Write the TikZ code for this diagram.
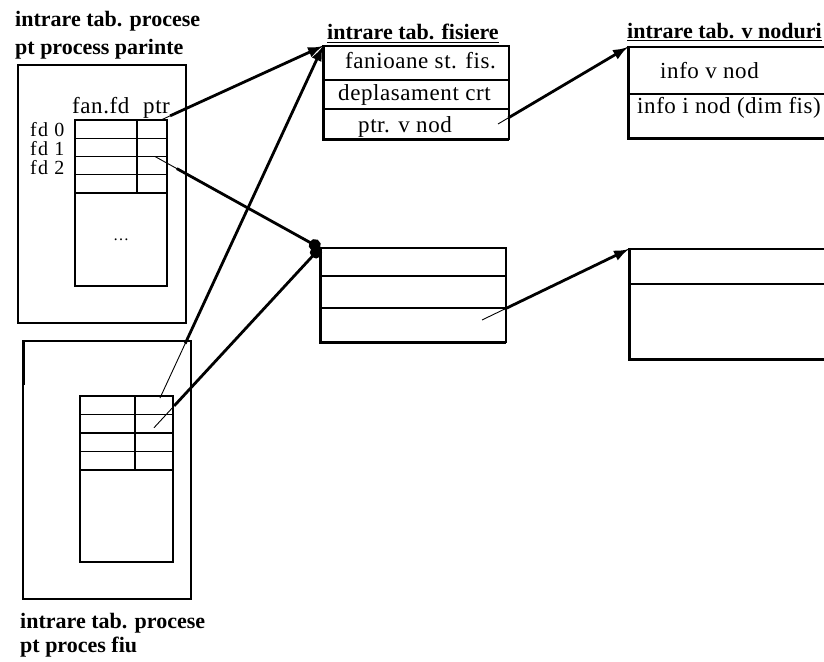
\documentclass[tikz,border=0pt]{standalone}
\usepackage{fontspec}
\setmainfont{Liberation Serif}
\newfontfamily\cellfam{Liberation Serif}[LetterSpace=2.5]
\newfontfamily\fdfam{Liberation Serif}[LetterSpace=6]
\usetikzlibrary{arrows.meta,positioning}
\tikzset{
  >=Latex,
  ttl/.style={anchor=base west,inner sep=0pt,font=\fontsize{22}{26}\selectfont\bfseries},
  txt/.style={anchor=base west,inner sep=0pt,font=\cellfam\fontsize{23}{27}\selectfont},
  fdtxt/.style={txt,font=\fdfam\fontsize{20}{22}\selectfont},
  cell/.style={draw,anchor=north west,line width=1.2pt,inner sep=0pt,outer sep=0pt},
  procbox/.style={cell,line width=1.8pt},
  heavy/.style={line width=3pt},
  ptr/.style={-{Latex[length=15pt,width=11pt]},line width=2.8pt,
    preaction={draw,-,line width=.9pt,shorten <=0pt}},
  ptrdot/.style={ptr,-{Circle[length=12pt]}}
}
\begin{document}
\begin{tikzpicture}[x=1pt,y=-1pt]
  \path[use as bounding box,clip] (0,0) rectangle (824,661);
  % parent process entry
  \node[ttl] (tp1) at (15,27) {intrare tab. procese};
  \node[ttl] (tp2) at (15,55) {pt process parinte};
  \node[procbox,minimum width=168,minimum height=258] (par) at (18,65) {};
  \node[txt] (hfan) at (72,113) {fan.fd};
  \node[txt] (hptr) at (143,113) {ptr};
  \foreach \r/\y in {0/136,1/155,2/174}
    \node[fdtxt] (fd\r) at (30,\y) {fd \r};
  \foreach \r in {0,1,2,3} {
    \node[cell,minimum width=62,minimum height=18.25] (pa\r) at (75,{120+18.25*\r}) {};
    \node[cell,minimum width=30,minimum height=18.25] (pb\r) at (137,{120+18.25*\r}) {};
  }
  \node[cell,minimum width=92,minimum height=93,font=\fontsize{16}{18}\selectfont] (pbody) at (75,193) {\dots};
  % child process entry
  \node[cell,minimum width=168,minimum height=258] (chd) at (23,341) {};
  \draw[heavy] (chd.north west) -- ++(0,44);
  \foreach \r in {0,1,2,3} {
    \node[cell,minimum width=55,minimum height=18.5] (ca\r) at (80,{396+18.5*\r}) {};
    \node[cell,minimum width=38,minimum height=18.5] (cb\r) at (135,{396+18.5*\r}) {};
  }
  \node[cell,minimum width=93,minimum height=92] (cbody) at (80,470) {};
  \node[ttl] (tc1) at (20,628) {intrare tab. procese};
  \node[ttl] (tc2) at (20,652) {pt proces fiu};
  % file table
  \node[ttl] (tf) at (327,40) {\underline{intrare tab. fisiere}};
  \node[cell,minimum width=186,minimum height=34] (f1) at (323,46) {};
  \node[cell,minimum width=186,minimum height=29,below=0pt of f1] (f2) {};
  \node[cell,minimum width=186,minimum height=30,below=0pt of f2] (f3) {};
  \draw[heavy] (f1.north west) -- (f3.south west) -- (f3.south east);
  \node[txt] (l1) at (345,69) {fanioane st. fis.};
  \node[txt] (l2) at (338,100) {deplasament crt};
  \node[txt] (l3) at (358,132) {ptr. v nod};
  \node[cell,minimum width=186,minimum height=28] (g1) at (320,248) {};
  \node[cell,minimum width=186,minimum height=32,below=0pt of g1] (g2) {};
  \node[cell,minimum width=186,minimum height=34,below=0pt of g2] (g3) {};
  \draw[heavy] (g1.north west) -- (g3.south west) -- (g3.south east);
  % v-node table
  \node[ttl] (tv) at (627,38) {\underline{intrare tab. v noduri}};
  \node[cell,minimum width=212,minimum height=47] (vn1) at (628,47) {};
  \node[cell,minimum width=212,minimum height=44,below=0pt of vn1] (vn2) {};
  \draw[heavy] (vn1.north west) -- (vn2.south west) -- (vn2.south east);
  \node[txt] (v1) at (660,78) {info v nod};
  \node[txt] (v2) at (637,113) {info i nod (dim fis)};
  \node[cell,minimum width=212,minimum height=35] (w1) at (629,249) {};
  \node[cell,minimum width=212,minimum height=75,below=0pt of w1] (w2) {};
  \draw[heavy] (w1.north west) -- (w2.south west) -- (w2.south east);
  % pointers
  \draw[ptr,shorten <=10pt] ([xshift=-6pt]pb0.north east) -- (f1.north west);
  \draw[ptrdot,shorten <=25pt] ([xshift=3pt]pb1.south) -- (g1.north west);
  \draw[ptr,shorten <=60pt] ([xshift=6pt,yshift=-2pt]cb0.north) -- (f1.north west);
  \draw[ptrdot,shorten <=30pt] ([yshift=-4pt]cb1.center) -- (g1.north west);
  \draw[ptr,shorten <=12pt] ([xshift=-11pt]f3.east) -- (vn1.north west);
  \draw[ptr,shorten <=25pt] ([xshift=-24pt,yshift=5pt]g3.east) -- (w1.north west);
\end{tikzpicture}
\end{document}
